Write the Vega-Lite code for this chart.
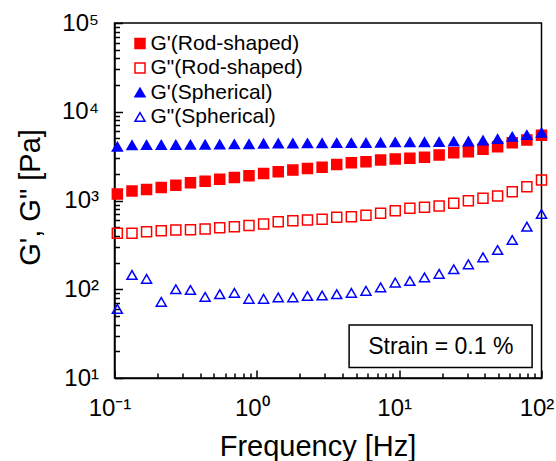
{
  "$schema": "https://vega.github.io/schema/vega-lite/v6.json",
  "width": 427,
  "height": 355,
  "autosize": {"type": "none"},
  "padding": {"left": 114.5, "top": 23, "right": 14.5, "bottom": 83},
  "config": {
    "view": {"stroke": "black", "strokeWidth": 1.5},
    "font": "Liberation Sans"
  },
  "datasets": {
    "pts": [
      {"f": 0.1047, "G": 1180, "s": "G'(Rod-shaped)"},
      {"f": 0.1327, "G": 1280, "s": "G'(Rod-shaped)"},
      {"f": 0.1680, "G": 1330, "s": "G'(Rod-shaped)"},
      {"f": 0.2130, "G": 1400, "s": "G'(Rod-shaped)"},
      {"f": 0.2698, "G": 1490, "s": "G'(Rod-shaped)"},
      {"f": 0.3418, "G": 1580, "s": "G'(Rod-shaped)"},
      {"f": 0.4331, "G": 1650, "s": "G'(Rod-shaped)"},
      {"f": 0.5487, "G": 1730, "s": "G'(Rod-shaped)"},
      {"f": 0.6952, "G": 1820, "s": "G'(Rod-shaped)"},
      {"f": 0.8807, "G": 1900, "s": "G'(Rod-shaped)"},
      {"f": 1.1157, "G": 2020, "s": "G'(Rod-shaped)"},
      {"f": 1.4135, "G": 2110, "s": "G'(Rod-shaped)"},
      {"f": 1.7910, "G": 2200, "s": "G'(Rod-shaped)"},
      {"f": 2.2691, "G": 2300, "s": "G'(Rod-shaped)"},
      {"f": 2.8746, "G": 2370, "s": "G'(Rod-shaped)"},
      {"f": 3.6420, "G": 2540, "s": "G'(Rod-shaped)"},
      {"f": 4.6140, "G": 2660, "s": "G'(Rod-shaped)"},
      {"f": 5.8456, "G": 2740, "s": "G'(Rod-shaped)"},
      {"f": 7.4074, "G": 2860, "s": "G'(Rod-shaped)"},
      {"f": 9.3846, "G": 2940, "s": "G'(Rod-shaped)"},
      {"f": 11.890, "G": 3000, "s": "G'(Rod-shaped)"},
      {"f": 15.063, "G": 3080, "s": "G'(Rod-shaped)"},
      {"f": 19.085, "G": 3260, "s": "G'(Rod-shaped)"},
      {"f": 24.180, "G": 3450, "s": "G'(Rod-shaped)"},
      {"f": 30.634, "G": 3550, "s": "G'(Rod-shaped)"},
      {"f": 38.812, "G": 3780, "s": "G'(Rod-shaped)"},
      {"f": 49.170, "G": 4040, "s": "G'(Rod-shaped)"},
      {"f": 62.300, "G": 4480, "s": "G'(Rod-shaped)"},
      {"f": 78.935, "G": 4800, "s": "G'(Rod-shaped)"},
      {"f": 100, "G": 5450, "s": "G'(Rod-shaped)"},
      {"f": 0.1047, "G": 427, "s": "G\"(Rod-shaped)"},
      {"f": 0.1327, "G": 427, "s": "G\"(Rod-shaped)"},
      {"f": 0.1680, "G": 445, "s": "G\"(Rod-shaped)"},
      {"f": 0.2130, "G": 457, "s": "G\"(Rod-shaped)"},
      {"f": 0.2698, "G": 465, "s": "G\"(Rod-shaped)"},
      {"f": 0.3418, "G": 468, "s": "G\"(Rod-shaped)"},
      {"f": 0.4331, "G": 478, "s": "G\"(Rod-shaped)"},
      {"f": 0.5487, "G": 494, "s": "G\"(Rod-shaped)"},
      {"f": 0.6952, "G": 507, "s": "G\"(Rod-shaped)"},
      {"f": 0.8807, "G": 523, "s": "G\"(Rod-shaped)"},
      {"f": 1.1157, "G": 543, "s": "G\"(Rod-shaped)"},
      {"f": 1.4135, "G": 577, "s": "G\"(Rod-shaped)"},
      {"f": 1.7910, "G": 592, "s": "G\"(Rod-shaped)"},
      {"f": 2.2691, "G": 603, "s": "G\"(Rod-shaped)"},
      {"f": 2.8746, "G": 614, "s": "G\"(Rod-shaped)"},
      {"f": 3.6420, "G": 647, "s": "G\"(Rod-shaped)"},
      {"f": 4.6140, "G": 657, "s": "G\"(Rod-shaped)"},
      {"f": 5.8456, "G": 681, "s": "G\"(Rod-shaped)"},
      {"f": 7.4074, "G": 717, "s": "G\"(Rod-shaped)"},
      {"f": 9.3846, "G": 768, "s": "G\"(Rod-shaped)"},
      {"f": 11.890, "G": 817, "s": "G\"(Rod-shaped)"},
      {"f": 15.063, "G": 838, "s": "G\"(Rod-shaped)"},
      {"f": 19.085, "G": 867, "s": "G\"(Rod-shaped)"},
      {"f": 24.180, "G": 929, "s": "G\"(Rod-shaped)"},
      {"f": 30.634, "G": 995, "s": "G\"(Rod-shaped)"},
      {"f": 38.812, "G": 1059, "s": "G\"(Rod-shaped)"},
      {"f": 49.170, "G": 1124, "s": "G\"(Rod-shaped)"},
      {"f": 62.300, "G": 1257, "s": "G\"(Rod-shaped)"},
      {"f": 78.935, "G": 1430, "s": "G\"(Rod-shaped)"},
      {"f": 100, "G": 1700, "s": "G\"(Rod-shaped)"},
      {"f": 0.1047, "G": 4040, "s": "G'(Spherical)"},
      {"f": 0.1327, "G": 4200, "s": "G'(Spherical)"},
      {"f": 0.1680, "G": 4220, "s": "G'(Spherical)"},
      {"f": 0.2130, "G": 4230, "s": "G'(Spherical)"},
      {"f": 0.2698, "G": 4240, "s": "G'(Spherical)"},
      {"f": 0.3418, "G": 4250, "s": "G'(Spherical)"},
      {"f": 0.4331, "G": 4260, "s": "G'(Spherical)"},
      {"f": 0.5487, "G": 4280, "s": "G'(Spherical)"},
      {"f": 0.6952, "G": 4300, "s": "G'(Spherical)"},
      {"f": 0.8807, "G": 4320, "s": "G'(Spherical)"},
      {"f": 1.1157, "G": 4380, "s": "G'(Spherical)"},
      {"f": 1.4135, "G": 4400, "s": "G'(Spherical)"},
      {"f": 1.7910, "G": 4410, "s": "G'(Spherical)"},
      {"f": 2.2691, "G": 4420, "s": "G'(Spherical)"},
      {"f": 2.8746, "G": 4430, "s": "G'(Spherical)"},
      {"f": 3.6420, "G": 4440, "s": "G'(Spherical)"},
      {"f": 4.6140, "G": 4450, "s": "G'(Spherical)"},
      {"f": 5.8456, "G": 4460, "s": "G'(Spherical)"},
      {"f": 7.4074, "G": 4480, "s": "G'(Spherical)"},
      {"f": 9.3846, "G": 4530, "s": "G'(Spherical)"},
      {"f": 11.890, "G": 4540, "s": "G'(Spherical)"},
      {"f": 15.063, "G": 4550, "s": "G'(Spherical)"},
      {"f": 19.085, "G": 4560, "s": "G'(Spherical)"},
      {"f": 24.180, "G": 4620, "s": "G'(Spherical)"},
      {"f": 30.634, "G": 4640, "s": "G'(Spherical)"},
      {"f": 38.812, "G": 4750, "s": "G'(Spherical)"},
      {"f": 49.170, "G": 4930, "s": "G'(Spherical)"},
      {"f": 62.300, "G": 5230, "s": "G'(Spherical)"},
      {"f": 78.935, "G": 5470, "s": "G'(Spherical)"},
      {"f": 100, "G": 5810, "s": "G'(Spherical)"},
      {"f": 0.1047, "G": 60, "s": "G\"(Spherical)"},
      {"f": 0.1327, "G": 145, "s": "G\"(Spherical)"},
      {"f": 0.1680, "G": 131, "s": "G\"(Spherical)"},
      {"f": 0.2130, "G": 72, "s": "G\"(Spherical)"},
      {"f": 0.2698, "G": 100, "s": "G\"(Spherical)"},
      {"f": 0.3418, "G": 98, "s": "G\"(Spherical)"},
      {"f": 0.4331, "G": 82, "s": "G\"(Spherical)"},
      {"f": 0.5487, "G": 88, "s": "G\"(Spherical)"},
      {"f": 0.6952, "G": 91, "s": "G\"(Spherical)"},
      {"f": 0.8807, "G": 78, "s": "G\"(Spherical)"},
      {"f": 1.1157, "G": 78, "s": "G\"(Spherical)"},
      {"f": 1.4135, "G": 81, "s": "G\"(Spherical)"},
      {"f": 1.7910, "G": 81, "s": "G\"(Spherical)"},
      {"f": 2.2691, "G": 84, "s": "G\"(Spherical)"},
      {"f": 2.8746, "G": 85, "s": "G\"(Spherical)"},
      {"f": 3.6420, "G": 88, "s": "G\"(Spherical)"},
      {"f": 4.6140, "G": 91, "s": "G\"(Spherical)"},
      {"f": 5.8456, "G": 96, "s": "G\"(Spherical)"},
      {"f": 7.4074, "G": 105, "s": "G\"(Spherical)"},
      {"f": 9.3846, "G": 119, "s": "G\"(Spherical)"},
      {"f": 11.890, "G": 124, "s": "G\"(Spherical)"},
      {"f": 15.063, "G": 136, "s": "G\"(Spherical)"},
      {"f": 19.085, "G": 149, "s": "G\"(Spherical)"},
      {"f": 24.180, "G": 168, "s": "G\"(Spherical)"},
      {"f": 30.634, "G": 191, "s": "G\"(Spherical)"},
      {"f": 38.812, "G": 229, "s": "G\"(Spherical)"},
      {"f": 49.170, "G": 277, "s": "G\"(Spherical)"},
      {"f": 62.300, "G": 359, "s": "G\"(Spherical)"},
      {"f": 78.935, "G": 507, "s": "G\"(Spherical)"},
      {"f": 100, "G": 705, "s": "G\"(Spherical)"}
    ],
    "note": [
      {"x1": 4.45, "x2": 85.9, "y1": 13.1, "y2": 39.5, "xm": 19.6, "ym": 22.6, "label": "Strain = 0.1 %"}
    ]
  },
  "layer": [
    {
      "data": {"name": "pts"},
      "mark": {"type": "point", "size": 100, "strokeWidth": 1.5, "opacity": 1},
      "encoding": {
        "x": {
          "field": "f", "type": "quantitative",
          "scale": {"type": "log", "domain": [0.1, 100], "nice": false},
          "axis": {
            "values": [0.1,0.2,0.3,0.4,0.5,0.6,0.7,0.8,0.9,1,2,3,4,5,6,7,8,9,10,20,30,40,50,60,70,80,90,100],
            "labelExpr": "datum.value==0.1?'10⁻¹':datum.value==1?'10⁰':datum.value==10?'10¹':datum.value==100?'10²':''",
            "tickSize": {"condition": {"test": "datum.value==0.1||datum.value==1||datum.value==10||datum.value==100", "value": -8}, "value": -5},
            "tickColor": "black", "tickWidth": 1.5,
            "domainColor": "black", "domainWidth": 1.5,
            "grid": false,
            "labelFont": "Liberation Sans", "labelFontSize": 24, "labelColor": "black",
            "labelFlush": false, "labelOverlap": false, "labelPadding": 26, "labelOffset": -5,
            "title": "Frequency [Hz]", "titleFont": "Liberation Sans", "titleFontSize": 29,
            "titleFontWeight": "normal", "titleColor": "black",
            "titleX": 203, "titleY": 77, "titleBaseline": "alphabetic", "titleAlign": "center"
          }
        },
        "y": {
          "field": "G", "type": "quantitative",
          "scale": {"type": "log", "domain": [10, 100000], "nice": false},
          "axis": {
            "values": [10,20,30,40,50,60,70,80,90,100,200,300,400,500,600,700,800,900,1000,2000,3000,4000,5000,6000,7000,8000,9000,10000,20000,30000,40000,50000,60000,70000,80000,90000,100000],
            "labelExpr": "datum.value==10?'10¹':datum.value==100?'10²':datum.value==1000?'10³':datum.value==10000?'10⁴':datum.value==100000?'10⁵':''",
            "tickSize": {"condition": {"test": "datum.value==10||datum.value==100||datum.value==1000||datum.value==10000||datum.value==100000", "value": -8}, "value": -5},
            "tickColor": "black", "tickWidth": 1.5,
            "domainColor": "black", "domainWidth": 1.5,
            "grid": false,
            "labelFont": "Liberation Sans", "labelFontSize": 24, "labelColor": "black",
            "labelFlush": false, "labelOverlap": false, "labelPadding": 24,
            "title": "G', G\" [Pa]", "titleFont": "Liberation Sans", "titleFontSize": 29,
            "titleFontWeight": "normal", "titleColor": "black",
            "titleX": -75, "titleY": 174, "titleBaseline": "alphabetic", "titleAlign": "center", "titleAngle": -90
          }
        },
        "shape": {
          "field": "s", "type": "nominal",
          "scale": {"domain": ["G'(Rod-shaped)", "G\"(Rod-shaped)", "G'(Spherical)", "G\"(Spherical)"], "range": ["square", "square", "triangle-up", "triangle-up"]},
          "legend": {"orient": "none", "legendX": 15, "legendY": 10, "title": null, "padding": 0, "labelFont": "Liberation Sans", "labelFontSize": 21, "labelColor": "black", "labelLimit": 300, "labelOffset": 0, "symbolSize": 100, "symbolStrokeWidth": 1.5, "rowPadding": 2.5}
        },
        "fill": {
          "field": "s", "type": "nominal",
          "scale": {"domain": ["G'(Rod-shaped)", "G\"(Rod-shaped)", "G'(Spherical)", "G\"(Spherical)"], "range": ["#ff0000", "transparent", "#0000ff", "transparent"]},
          "legend": {"orient": "none", "legendX": 15, "legendY": 10, "title": null, "padding": 0, "labelFont": "Liberation Sans", "labelFontSize": 21, "labelColor": "black", "labelLimit": 300, "labelOffset": 0, "symbolSize": 100, "symbolStrokeWidth": 1.5, "rowPadding": 2.5}
        },
        "stroke": {
          "field": "s", "type": "nominal",
          "scale": {"domain": ["G'(Rod-shaped)", "G\"(Rod-shaped)", "G'(Spherical)", "G\"(Spherical)"], "range": ["#ff0000", "#ff0000", "#0000ff", "#0000ff"]},
          "legend": {"orient": "none", "legendX": 15, "legendY": 10, "title": null, "padding": 0, "labelFont": "Liberation Sans", "labelFontSize": 21, "labelColor": "black", "labelLimit": 300, "labelOffset": 0, "symbolSize": 100, "symbolStrokeWidth": 1.5, "rowPadding": 2.5}
        }
      }
    },
    {
      "data": {"name": "note"},
      "mark": {"type": "rect", "filled": false, "stroke": "black", "strokeWidth": 1.5},
      "encoding": {
        "x": {"field": "x1", "type": "quantitative"},
        "x2": {"field": "x2"},
        "y": {"field": "y1", "type": "quantitative"},
        "y2": {"field": "y2"}
      }
    },
    {
      "data": {"name": "note"},
      "mark": {"type": "text", "font": "Liberation Sans", "fontSize": 23, "color": "black", "align": "center", "baseline": "middle"},
      "encoding": {
        "x": {"field": "xm", "type": "quantitative"},
        "y": {"field": "ym", "type": "quantitative"},
        "text": {"field": "label"}
      }
    }
  ]
}
